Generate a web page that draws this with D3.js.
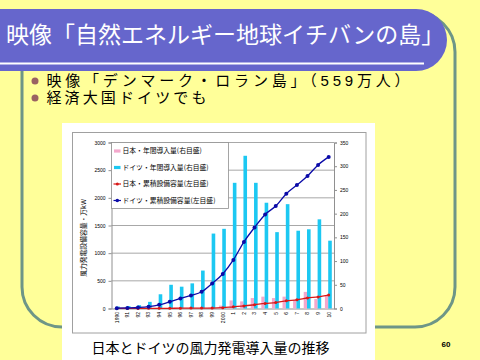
<!DOCTYPE html>
<html><head><meta charset="utf-8">
<script src="https://cdn.jsdelivr.net/npm/d3@7"></script>
<style>
html,body{margin:0;padding:0;background:#FFFF99;}
svg{display:block;}
</style></head>
<body>
<svg id="c" width="480" height="360"></svg>
<script>
// ---- data ----
const years = ["1990","91","92","93","94","95","96","97","98","99","2000","1","2","3","4","5","6","7","8","9","10"];
const jpAnnual = [0,0,0,0,0,0,0.5,1,1,2,6,17,15,22,25,22,25,18,35,20,27];      // right axis
const deAnnual = [4,5,7,14,30,50,46,53,80,158,168,265,322,265,223,161,220,164,167,188,143]; // right axis
const jpCum = [1,1,2,3,4,4,5,7,8,8,14,31,46,68,92,108,139,157,190,210,242];    // left axis
const deCum = [6,11,18,33,66,121,181,236,302,454,623,877,1204,1464,1700,1851,2075,2232,2395,2595,2740]; // left axis
const leftTicks = [0,500,1000,1500,2000,2500,3000];
const rightTicks = [0,50,100,150,200,250,300,350];
const legendLabels = ["日本・年間導入量(右目盛)","ドイツ・年間導入量(右目盛)","日本・累積設備容量(左目盛)","ドイツ・累積設備容量(左目盛)"];
const titleText = "映像「自然エネルギー地球イチバンの島」";
const bullets = ["映像「デンマーク・ロラン島」（559万人）","経済大国ドイツでも"];
const bulletWidths = [363,160];
const caption = "日本とドイツの風力発電導入量の推移";
const yTitle = "風力発電設備容量・万kW";

const JP = "'Noto Sans CJK JP','Noto Sans',sans-serif";
const JPL = "'Liberation Sans','Noto Sans CJK JP',sans-serif";
const NUM = "'Liberation Sans',Arial,sans-serif";
const svg = d3.select("#c");

// ---- slide background ----
svg.append("rect").attr("width",480).attr("height",360).attr("fill","#FFFF99");
// frame
svg.append("rect").attr("x",22).attr("y",12).attr("width",433).attr("height",315)
  .attr("rx",40).attr("fill","none").attr("stroke","#6E9687").attr("stroke-width",3);
// title box
const tb = d3.path();
tb.moveTo(-5,9); tb.lineTo(416,9); tb.arcTo(447,9,447,40,31); tb.arcTo(447,71,416,71,31); tb.lineTo(-5,71); tb.closePath();
svg.append("path").attr("d",tb.toString()).attr("fill","#6666CC");
svg.append("line").attr("x1",0).attr("x2",424).attr("y1",63.5).attr("y2",63.5)
  .attr("stroke","#fff").attr("stroke-width",2);
svg.append("text").attr("x",6).attr("y",43).attr("fill","#fff")
  .style("font-family",JP).style("font-size","23px").text(titleText);

// bullets
bullets.forEach((b,i)=>{
  const y = 86 + i*17;
  svg.append("circle").attr("cx",35).attr("cy",y-5).attr("r",3.5).attr("fill","#9A6262");
  svg.append("text").attr("x",46.5).attr("y",y).attr("fill","#000")
    .attr("textLength",bulletWidths[i]).attr("lengthAdjust","spacing")
    .style("font-family",JPL).style("font-size","15px").text(b);
});

// page number
svg.append("text").attr("x",446).attr("y",347).attr("text-anchor","middle")
  .style("font-family",NUM).style("font-size","8px").style("font-weight","bold").text("60");

// ---- chart picture ----
svg.append("rect").attr("x",62).attr("y",123).attr("width",313).attr("height",237).attr("fill","#fff");
svg.append("rect").attr("x",72.5).attr("y",132.5).attr("width",293.5).attr("height",200.5)
  .attr("fill","#fff").attr("stroke","#a0a0a0").attr("stroke-width",1);

const x = d3.scaleBand().domain(years).range([111.5,334]).padding(0);
const yL = d3.scaleLinear().domain([0,3000]).range([308.5,142.5]);
const yR = d3.scaleLinear().domain([0,350]).range([308.5,142.5]);
const cx = d => x(d) + x.bandwidth()/2;

// gridlines
svg.append("g").selectAll("line").data(leftTicks.slice(1)).join("line")
  .attr("x1",111.5).attr("x2",334).attr("y1",d=>yL(d)).attr("y2",d=>yL(d))
  .attr("stroke","#a8a8a8").attr("stroke-width",1);

// axes
const gL = svg.append("g").attr("transform","translate(111.5,0)")
  .call(d3.axisLeft(yL).tickValues(leftTicks).tickSize(3).tickPadding(3).tickFormat(d3.format("d")));
const gR = svg.append("g").attr("transform","translate(334,0)")
  .call(d3.axisRight(yR).tickValues(rightTicks).tickSize(3).tickPadding(3).tickFormat(d3.format("d")));
const gX = svg.append("g").attr("transform","translate(0,308.5)")
  .call(d3.axisBottom(x).tickSize(0).tickPadding(0));
[gL,gR,gX].forEach(g=>{
  g.select(".domain").attr("stroke","#909090");
  g.selectAll(".tick line").attr("stroke","#909090");
  g.selectAll("text").style("font-family",NUM).style("font-size","5px").attr("fill","#000");
});
gX.selectAll(".tick text").attr("text-anchor","end")
  .attr("transform","translate(1.8,3.5) rotate(-90)").attr("x",0).attr("y",0).attr("dy",0);

// bars
svg.append("g").selectAll("rect").data(years).join("rect")
  .attr("x",d=>cx(d)-3.8).attr("width",3.3)
  .attr("y",(d,i)=>yR(jpAnnual[i])).attr("height",(d,i)=>yR(0)-yR(jpAnnual[i]))
  .attr("fill","#F4A8CC");
svg.append("g").selectAll("rect").data(years).join("rect")
  .attr("x",d=>cx(d)-0.5).attr("width",3.6)
  .attr("y",(d,i)=>yR(deAnnual[i])).attr("height",(d,i)=>yR(0)-yR(deAnnual[i]))
  .attr("fill","#1CC8F2");

// lines
function series(vals,color,r,w){
  const line = d3.line().x((d,i)=>cx(years[i])).y(d=>yL(d)).curve(d3.curveMonotoneX);
  svg.append("path").datum(vals).attr("d",line).attr("fill","none")
    .attr("stroke",color).attr("stroke-width",w);
  svg.append("g").selectAll("circle").data(vals).join("circle")
    .attr("cx",(d,i)=>cx(years[i])).attr("cy",d=>yL(d)).attr("r",r).attr("fill",color);
}
series(jpCum,"#D81818",1.5,1.3);
series(deCum,"#0B0BA8",2,1.3);

// legend
const lg = svg.append("g");
lg.append("rect").attr("x",111.5).attr("y",142.5).attr("width",117).attr("height",66)
  .attr("fill","#fff").attr("stroke","#909090").attr("stroke-width",0.8);
const lys = [151,167.5,184,200.5];
lg.append("rect").attr("x",114).attr("y",lys[0]-1.6).attr("width",6.5).attr("height",3.2).attr("fill","#F4A8CC");
lg.append("rect").attr("x",114).attr("y",lys[1]-1.6).attr("width",6.5).attr("height",3.2).attr("fill","#1CC8F2");
[["#D81818",1.5],["#0B0BA8",1.8]].forEach((c,k)=>{
  const y = lys[2+k];
  lg.append("line").attr("x1",113.5).attr("x2",121).attr("y1",y).attr("y2",y).attr("stroke",c[0]).attr("stroke-width",1.2);
  lg.append("circle").attr("cx",117.3).attr("cy",y).attr("r",c[1]).attr("fill",c[0]);
});
lg.selectAll("text").data(legendLabels).join("text")
  .attr("x",122.5).attr("y",(d,i)=>lys[i]).attr("dy","0.36em")
  .style("font-family",JP).style("font-size","6.8px").attr("fill","#000").text(d=>d);

// y axis title
svg.append("text").attr("transform","translate(86,238) rotate(-90)").attr("text-anchor","middle")
  .style("font-family",JP).style("font-size","6.8px").attr("fill","#000").text(yTitle);

// caption
svg.append("text").attr("x",210.5).attr("y",353).attr("text-anchor","middle")
  .style("font-family",JP).style("font-size","14px").attr("fill","#000").text(caption);
</script>
</body></html>
